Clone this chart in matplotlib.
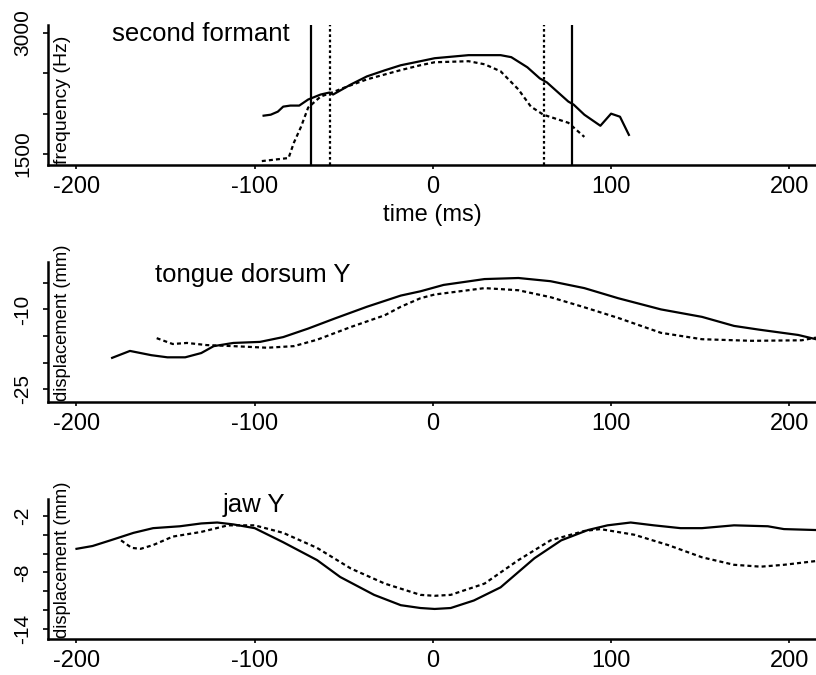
"""Formant and articulator trajectories, three stacked panels."""

import matplotlib

matplotlib.use("Agg")
import matplotlib.pyplot as plt

plt.rcParams["font.family"] = ["Liberation Sans", "DejaVu Sans"]

X_TICKS = [-200, -100, 0, 100, 200]
X_TICK_LABELS = ["-200", "-100", "0", "100", "200"]

# second formant (Hz)
f2_solid_t = [-95, -91, -87, -84, -80, -75, -70, -63, -58, -56, -46, -37, -27, -18, -7,
              1, 20, 38, 44, 53, 60, 64, 76, 79, 85, 94, 100, 105, 110]
f2_solid = [1975, 1987, 2025, 2087, 2100, 2100, 2175, 2237, 2262, 2237, 2362, 2462, 2537,
            2600, 2650, 2687, 2725, 2725, 2700, 2575, 2437, 2387, 2150, 2112, 1987, 1850,
            2000, 1962, 1737]
f2_dashed_t = [-96, -81, -78, -74, -70, -63, -58, -50, -37, -18, -7, 1, 20, 29, 38, 48,
               55, 62, 76, 85]
f2_dashed = [1412, 1450, 1640, 1837, 2075, 2212, 2250, 2320, 2425, 2540, 2600, 2637, 2650,
             2612, 2525, 2300, 2087, 1987, 1887, 1712]
f2_bounds_solid = [-68.5, 78]
f2_bounds_dashed = [-58, 62.5]
f2_yticks = [1500, 2000, 2500, 3000]
f2_ytick_labels = ["1500", "", "", "3000"]

# tongue dorsum Y (mm)
td_solid_t = [-180, -170, -158, -149, -139, -130, -123, -112, -97, -84, -70, -55, -37, -18,
              -7, 6, 29, 48, 66, 85, 104, 128, 151, 169, 183, 205, 215]
td_solid = [-19.1, -17.8, -18.6, -19.0, -19.0, -18.2, -16.9, -16.3, -16.1, -15.2, -13.6,
            -11.7, -9.5, -7.4, -6.6, -5.4, -4.3, -4.1, -4.7, -6.0, -7.9, -10.0, -11.4,
            -13.1, -13.8, -14.8, -15.6]
td_dashed_t = [-155, -146, -138, -127, -112, -93, -78, -65, -46, -27, -18, -7, 1, 29, 48,
               66, 85, 104, 128, 151, 179, 207, 215]
td_dashed = [-15.4, -16.5, -16.3, -16.7, -16.9, -17.2, -16.9, -15.7, -13.3, -11.1, -9.5,
             -7.9, -7.2, -6.0, -6.4, -7.7, -9.6, -11.6, -14.4, -15.6, -15.9, -15.8, -15.3]
td_yticks = [-25, -20, -15, -10, -5]
td_ytick_labels = ["-25", "", "", "-10", ""]

# jaw Y (mm)
jaw_solid_t = [-200, -191, -181, -168, -157, -142, -130, -121, -112, -100, -84, -65, -52,
               -33, -18, -7, 1, 10, 23, 38, 57, 72, 87, 98, 111, 124, 139, 151, 169, 188,
               197, 215]
jaw_solid = [-5.5, -5.2, -4.6, -3.8, -3.3, -3.1, -2.8, -2.7, -2.9, -3.3, -4.8, -6.7, -8.5,
             -10.4, -11.5, -11.8, -11.9, -11.8, -11.0, -9.6, -6.5, -4.6, -3.5, -3.0, -2.7,
             -3.0, -3.3, -3.3, -3.0, -3.1, -3.4, -3.5]
jaw_dashed_t = [-175, -169, -164, -157, -146, -130, -115, -100, -84, -65, -46, -27, -7, 1,
                10, 29, 48, 66, 85, 94, 113, 132, 151, 169, 184, 197, 215]
jaw_dashed = [-4.6, -5.4, -5.5, -5.1, -4.2, -3.7, -3.0, -3.0, -3.8, -5.4, -7.6, -9.2,
              -10.4, -10.5, -10.4, -9.2, -6.7, -4.6, -3.6, -3.4, -4.0, -5.1, -6.4, -7.2,
              -7.4, -7.2, -6.8]
jaw_yticks = [-14, -12, -10, -8, -6, -4, -2]
jaw_ytick_labels = ["-14", "", "", "-8", "", "", "-2"]

DASH = (0, (1.8, 1.4))
LW = 1.6


def style_axes(ax, yticks, ylabels, ylim, ylabel, ylabel_size, title, title_xy):
    ax.set_xlim(-216, 215)
    ax.set_ylim(*ylim)
    for side in ("top", "right"):
        ax.spines[side].set_visible(False)
    for side in ("left", "bottom"):
        ax.spines[side].set_linewidth(1.8)
    ax.set_xticks(X_TICKS)
    ax.set_xticklabels(X_TICK_LABELS)
    ax.set_yticks(yticks)
    ax.set_yticklabels(ylabels, rotation=90, va="center")
    ax.tick_params(axis="x", length=3, width=1.2, pad=5, labelsize=17)
    ax.tick_params(axis="y", length=3.5, width=1.2, pad=8, labelsize=15)
    ax.text(0.019, 0.01, ylabel, transform=ax.transAxes, rotation=90,
            ha="center", va="bottom", fontsize=ylabel_size)
    ax.text(title_xy[0], title_xy[1], title, transform=ax.transAxes,
            ha="left", va="center", fontsize=18.5, clip_on=False)


fig = plt.figure(figsize=(8.16, 6.75), dpi=100)
ax1 = fig.add_axes([0.0588, 0.7556, 0.9412, 0.2074])
ax2 = fig.add_axes([0.0588, 0.4044, 0.9412, 0.2074])
ax3 = fig.add_axes([0.0588, 0.0533, 0.9412, 0.2074])

# panel 1: second formant
ax1.plot(f2_solid_t, f2_solid, color="black", lw=LW)
ax1.plot(f2_dashed_t, f2_dashed, color="black", lw=LW, linestyle=DASH)
for t in f2_bounds_solid:
    ax1.axvline(t, color="black", lw=1.6)
for t in f2_bounds_dashed:
    ax1.axvline(t, color="black", lw=1.6, linestyle=(0, (1.2, 1.2)))
style_axes(ax1, f2_yticks, f2_ytick_labels, (1364, 3099), "frequency (Hz)", 14,
           "second formant", (0.083, 0.935))
ax1.set_xlabel("time (ms)", fontsize=17, labelpad=4)

# panel 2: tongue dorsum
ax2.plot(td_solid_t, td_solid, color="black", lw=LW)
ax2.plot(td_dashed_t, td_dashed, color="black", lw=LW, linestyle=DASH)
style_axes(ax2, td_yticks, td_ytick_labels, (-27.4, -1.1), "displacement (mm)", 13.2,
           "tongue dorsum Y", (0.139, 0.905))

# panel 3: jaw
ax3.plot(jaw_solid_t, jaw_solid, color="black", lw=LW)
ax3.plot(jaw_dashed_t, jaw_dashed, color="black", lw=LW, linestyle=DASH)
style_axes(ax3, jaw_yticks, jaw_ytick_labels, (-15.1, -0.2), "displacement (mm)", 13.2,
           "jaw Y", (0.228, 0.955))

fig.savefig("out.png", dpi=100)
